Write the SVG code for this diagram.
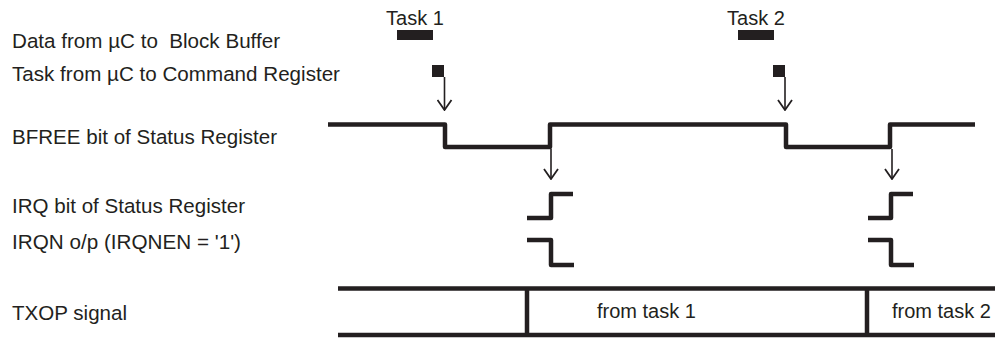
<svg xmlns="http://www.w3.org/2000/svg" width="995" height="338" viewBox="0 0 995 338">
<defs>
<style>
text{font-family:"Liberation Sans",Arial,sans-serif;font-size:20px;fill:#231f20}
.lab{font-size:20.5px}
.tk{font-size:20px;text-anchor:middle}
.sig{fill:none;stroke:#231f20;stroke-width:4.5;stroke-linejoin:round}
.arr{fill:none;stroke:#231f20;stroke-width:1.6}
.blk{fill:#231f20}
</style>
<marker id="ah" viewBox="0 0 12 16" refX="11" refY="8" markerWidth="12" markerHeight="16" markerUnits="userSpaceOnUse" orient="auto">
<path d="M1,1 L11,8 L1,15" fill="none" stroke="#231f20" stroke-width="1.8"/>
</marker>
</defs>
<rect width="995" height="338" fill="#fff"/>
<g id="labels">
<text class="lab" x="12" y="48" textLength="268" lengthAdjust="spacingAndGlyphs">Data from µC to&#160; Block Buffer</text>
<text class="lab" x="12" y="81" textLength="328" lengthAdjust="spacingAndGlyphs">Task from µC to Command Register</text>
<text class="lab" x="12" y="144" textLength="265" lengthAdjust="spacingAndGlyphs">BFREE bit of Status Register</text>
<text class="lab" x="12" y="213" textLength="233" lengthAdjust="spacingAndGlyphs">IRQ bit of Status Register</text>
<text class="lab" x="12" y="249" textLength="229" lengthAdjust="spacingAndGlyphs">IRQN o/p (IRQNEN = '1')</text>
<text class="lab" x="12" y="320" textLength="115" lengthAdjust="spacingAndGlyphs">TXOP signal</text>
</g>
<g id="task1">
<text class="tk" x="415" y="25">Task 1</text>
<rect class="blk" x="397" y="30" width="36" height="10"/>
<rect class="blk" x="432" y="65" width="12" height="12"/>
</g>
<g id="task2">
<text class="tk" x="756" y="25">Task 2</text>
<rect class="blk" x="738" y="30" width="36" height="10"/>
<rect class="blk" x="773" y="65" width="12" height="12"/>
</g>
<g id="bfree">
<path class="sig" d="M328,124.5 H445 V147 H550 V124.5 H786 V147 H890 V124.5 H975"/>
</g>
<g id="irq">
<path class="sig" d="M527,218 H551 V194 H573"/>
<path class="sig" d="M868,218 H891 V194 H913"/>
</g>
<g id="irqn">
<path class="sig" d="M527,240 H551 V265 H574"/>
<path class="sig" d="M868,240 H891 V265 H914"/>
</g>
<g id="txop">
<path class="sig" d="M338,288.5 H995 M338,335 H995 M527,288.5 V335 M867,288.5 V335"/>
<text x="597" y="318">from task 1</text>
<text x="892" y="318">from task 2</text>
</g>
<g id="connectors">
<path class="arr" d="M444.5,77 V110" marker-end="url(#ah)"/>
<path class="arr" d="M785,77 V110" marker-end="url(#ah)"/>
<path class="arr" d="M551,149 V179" marker-end="url(#ah)"/>
<path class="arr" d="M892,149 V179" marker-end="url(#ah)"/>
</g>
</svg>
